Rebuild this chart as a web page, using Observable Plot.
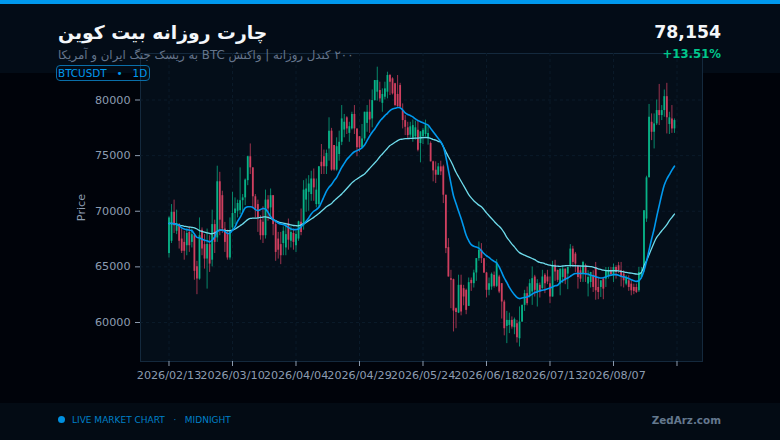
<!DOCTYPE html>
<html lang="fa">
<head>
<meta charset="utf-8">
<script src="https://cdn.jsdelivr.net/npm/d3@7"></script>
<script src="https://cdn.jsdelivr.net/npm/@observablehq/plot@0.6"></script>
<style>
html,body{margin:0;padding:0;width:780px;height:440px;overflow:hidden;background:#00030a;font-family:"DejaVu Sans",sans-serif}
.abs{position:absolute;white-space:nowrap}
#topbar{left:0;top:0;width:780px;height:4px;background:#0099ee}
#head{left:0;top:4px;width:780px;height:69px;background:#030c17}
#foot{left:0;top:403px;width:780px;height:37px;background:#030b14}
#chart{left:0;top:0;width:780px;height:440px}
#title{left:58px;top:22px;font-size:18.8px;font-weight:700;color:#f4f7fa;line-height:22px}
#sub{left:58px;top:48px;font-size:11.8px;color:#64748b;line-height:15px}
#chip{left:56px;top:65px;height:14px;line-height:14px;padding:0 2px 0 1px;border:1px solid #0a6ea8;border-radius:4px;font-size:10.4px;color:#0099ee;white-space:pre}
#val{right:59px;top:22px;font-size:17.3px;font-weight:700;color:#f4f7fa;line-height:21px}
#pct{right:59px;top:47px;font-size:11.7px;font-weight:700;color:#00c78c;line-height:15px}
#dot{left:58px;top:416px;width:7px;height:7px;border-radius:50%;background:#0090e0}
#live{left:72px;top:414px;font-size:9px;color:#0080c8;line-height:12px;white-space:pre}
#site{right:59px;top:413px;font-size:10.4px;font-weight:700;color:#64788e;line-height:14px}
</style>
</head>
<body>
<div class="abs" id="topbar"></div>
<div class="abs" id="head"></div>
<div class="abs" id="foot"></div>
<div class="abs" id="chart"></div>
<div class="abs" id="title" dir="rtl">چارت روزانه بیت کوین</div>
<div class="abs" id="sub" dir="rtl">۲۰۰ کندل روزانه | واکنش BTC به ریسک جنگ ایران و آمریکا</div>
<div class="abs" id="chip">BTCUSDT   •   1D</div>
<div class="abs" id="val">78,154</div>
<div class="abs" id="pct">+13.51%</div>
<div class="abs" id="dot"></div>
<div class="abs" id="live">LIVE MARKET CHART   ·   MIDNIGHT</div>
<div class="abs" id="site">ZedArz.com</div>
<script>
const startDay = "2026-02-13";
const tickDays = ["2026-02-13","2026-03-10","2026-04-04","2026-04-29","2026-05-24","2026-06-18","2026-07-13","2026-08-07","2026-09-01"];
const tickLabels = ["2026/02/13","2026/03/10","2026/04/04","2026/04/29","2026/05/24","2026/06/18","2026/07/13","2026/08/07",""];
const priceTicks = [60000,65000,70000,75000,80000];

const opens = [
66200,67300,69900,68200,68800,67500,67200,66900,68100,67200,
67800,65000,63900,68300,67000,65700,67000,65600,68800,67600,
72650,71400,68400,67900,65800,68500,69800,70000,70050,70950,
71200,72750,74900,73900,71300,70600,69200,69000,67800,71000,
70300,71400,68800,67500,67000,67100,66700,68900,67300,68000,
66900,67500,69000,68700,71000,71700,71500,72900,70600,70600,
74400,74900,74000,75600,77200,75900,73700,75100,76200,77300,
78400,77000,77400,78700,77400,76700,75700,76500,77900,78900,
78300,79950,80700,80850,79700,80250,80700,82200,81900,81450,
80500,81300,79050,78150,77500,76840,76600,76700,77290,76090,
76690,76900,76500,76090,74440,73690,73240,73990,73990,71440,
66730,63940,63850,61240,60850,63340,63040,62890,61450,63790,
63490,64450,65740,66490,65740,64450,62890,63190,64240,63250,
64090,63490,61840,59650,59740,60190,59530,59890,58540,60040,
61540,62590,62440,62740,64090,62740,63340,63040,64240,64090,
63490,62290,65140,64690,63450,64050,64800,64350,65100,66600,
66150,65100,64650,64350,65100,63450,63600,64200,64950,63150,
63150,63900,63900,64200,64650,64200,64950,65100,64650,64350,
63450,63750,63450,63150,63150,62850,64050,64650,69300,73000,
78000,77100,77850,79050,78600,79050,80300,77800,78300,77400];
const closes = [
69400,69900,68700,68900,67300,66400,66400,68000,66900,67900,
64600,63900,67800,66600,65700,67000,65250,68800,67200,72650,
69200,68400,67200,65800,68200,69800,70200,70700,70950,71200,
72800,74900,73900,71300,70200,69400,67800,67800,71000,70200,
71400,68800,66300,66500,66000,68200,67900,67400,68100,67200,
67900,69050,68100,71900,72000,72450,72900,72100,71900,74000,
74000,74000,75200,77200,73700,73700,75800,76200,78300,78000,
77400,77600,78700,77400,75700,75700,76500,78900,78900,78200,
79950,81750,81750,80100,80500,81000,82200,81600,80550,79500,
79400,79350,78150,77550,76800,77590,77700,77500,75490,77140,
77290,77700,77000,74440,73630,73240,73990,73540,71440,66640,
64090,63790,61030,60900,63340,60940,62290,61090,63580,63490,
64450,65740,66490,65740,64450,62890,63490,64330,63250,65350,
62740,61840,59440,60190,60190,59590,60250,58630,60040,61540,
62590,61690,63490,63940,62890,63490,62740,64090,63490,63640,
62290,65140,64540,63790,64800,64800,63750,64950,66600,65400,
65250,64050,63900,65400,64350,64050,64500,63150,62850,62700,
63750,63000,64650,64650,64300,64950,64500,64650,64050,63750,
64050,63150,62850,62800,62700,64500,64500,70050,73000,78450,
77100,77850,79050,78600,79050,80300,78400,78400,77400,78154];
const highs = [
69500,70600,71000,70100,68900,68400,68200,68400,68600,68400,
68000,65500,69400,68500,67900,68400,67800,70100,69200,74050,
73500,71800,69000,68300,69400,71700,71200,71000,73900,71500,
72900,74950,76050,73900,71500,71000,69600,70400,71900,71400,
72000,71400,69000,68100,68100,68600,68800,69300,68600,68400,
68200,69100,70200,72750,72900,73200,73600,73800,72900,74000,
76000,75500,75500,78400,77450,75900,76600,77200,79500,78700,
78500,78000,78900,79500,77400,76700,77800,78900,79500,80000,
80900,81750,82950,81600,81000,81600,82500,82300,82000,81500,
82200,81500,79650,78600,78000,78000,78200,78100,78190,77140,
77440,78190,77590,76240,74500,74440,74290,74500,74140,71440,
67540,64690,63900,61300,64250,64250,63340,63000,64000,64000,
64700,65740,67240,67090,65740,64500,64000,64450,64540,65650,
64240,63500,62000,61000,60840,60500,60400,60190,61400,61540,
62890,63190,63850,64990,64240,63850,63550,64690,64390,64690,
64090,65500,65590,64700,64800,65000,64800,64950,67000,66850,
66300,65100,64950,65500,65250,64650,64500,64650,65400,64050,
63750,64050,64950,64950,64950,65250,65100,65400,65400,64650,
64200,64200,63750,63450,63450,64950,64950,70050,73150,79600,
78750,78750,80000,81400,79500,80900,81500,78900,79500,78300];
const lows = [
65800,67100,68000,67900,66600,66200,65600,66000,66300,66700,
63800,62500,63800,66000,64800,63000,64500,65000,66200,67200,
67800,68000,66300,65600,65600,68200,68800,69400,69700,69900,
70500,72300,73300,70200,69400,68100,67400,67100,67500,69100,
69400,67800,65500,65700,65200,66000,66000,66500,66700,66500,
66300,67300,67800,68300,69900,70000,70900,70900,70300,70300,
73300,73300,73300,74500,73600,73600,73600,74500,75900,76600,
76900,76200,77300,76900,74900,75300,75700,76300,77100,77000,
77500,79900,79900,79800,78900,80000,80100,80400,80450,79400,
79350,79300,77400,76800,76500,76600,76200,76400,75340,74350,
76000,76690,75940,74440,72640,72490,73240,73200,70690,66190,
64090,61240,59150,59440,60800,60600,61500,60700,61450,62800,
63100,63700,65500,65300,64400,62200,62400,62900,63100,63150,
62590,60310,58800,58100,59000,59400,58900,58150,57800,60000,
61000,61500,62200,61540,62290,61390,62200,63000,62590,63400,
61690,62290,63700,63600,62400,63500,63400,62950,64900,65000,
64500,63000,63600,63600,63600,62300,63100,62700,62000,62050,
62250,62050,63150,63900,64150,63600,63900,64400,63200,63100,
63300,62800,62400,62500,62600,62700,63900,64500,69000,73000,
76350,75600,77700,77700,78150,78450,76950,76900,77000,77000];
const ma20 = [
68900,68900,68880,68800,68720,68500,68400,68350,68300,68250,
67950,67650,67600,67500,67400,67350,67250,67400,67700,68200,
68300,68300,68200,68000,68050,68300,68600,69100,69450,69900,
70300,70400,70400,70350,70150,70050,70150,70250,70200,69900,
69500,69250,69100,68950,68850,68800,68700,68550,68400,68350,
68350,68400,68600,68850,69100,69400,69750,70000,70150,70350,
70800,71300,71800,72150,72400,72750,73050,73500,73950,74300,
74650,74900,75150,75350,75450,75550,75700,75950,76350,76750,
77100,77400,77750,78100,78350,78600,78800,79050,79200,79250,
79320,79300,79100,78850,78700,78600,78480,78300,78150,78050,
77950,77850,77750,77450,77150,76850,76550,76250,75800,74900,
73700,72500,71400,70700,70000,69350,68600,67850,67350,67000,
66850,66780,66680,66450,66200,66000,65850,65650,65500,65350,
65000,64500,64000,63600,63150,62800,62500,62250,62150,62200,
62250,62300,62400,62550,62700,62750,62850,62900,62950,63030,
63100,63200,63300,63350,63600,63750,63900,64000,64150,64300,
64400,64400,64400,64400,64380,64350,64250,64200,64100,64050,
64000,64020,64100,64200,64250,64300,64300,64250,64150,64100,
64050,63950,63850,63750,63700,63750,64050,64650,65500,66500,
67500,68400,69500,70500,71500,72350,72900,73300,73700,74050];
const ma50 = [
68900,68900,68880,68820,68760,68700,68650,68620,68580,68550,
68500,68400,68250,68200,68120,68050,68000,67980,68050,68200,
68300,68300,68280,68250,68250,68300,68400,68550,68700,68850,
69050,69250,69350,69380,69380,69400,69450,69480,69500,69450,
69350,69250,69150,69050,68980,68940,68880,68820,68780,68720,
68700,68700,68780,68880,69000,69150,69300,69450,69620,69800,
70000,70200,70400,70550,70700,70950,71150,71350,71550,71800,
72050,72300,72550,72750,72900,73050,73200,73350,73600,73850,
74100,74350,74600,74900,75150,75400,75650,75900,76050,76200,
76350,76450,76480,76520,76530,76550,76560,76570,76580,76600,
76620,76630,76620,76550,76450,76400,76280,76200,75800,75350,
74900,74500,74000,73500,73100,72700,72300,71900,71500,71200,
70950,70750,70550,70400,70150,69850,69600,69350,69100,68850,
68650,68400,68050,67650,67350,67050,66800,66500,66280,66150,
66050,65950,65850,65750,65650,65500,65400,65350,65280,65200,
65150,65100,65080,65060,65050,65080,65100,65120,65110,65100,
65100,65090,65080,65070,65060,65050,65020,64980,64900,64830,
64770,64700,64660,64650,64650,64650,64650,64640,64600,64550,
64500,64470,64430,64400,64360,64350,64500,65100,65550,66100,
66650,67200,67650,67950,68250,68500,68800,69150,69450,69750];

const day = s => new Date(s + "T00:00:00Z");
const t0 = +day(startDay);
const DAY = 864e5;
const candles = opens.map((o, i) => ({
  date: new Date(t0 + i * DAY), o, c: closes[i], h: highs[i], l: lows[i],
  up: closes[i] >= o, m20: ma20[i], m50: ma50[i]
}));
const upCol = "#08b287", dnCol = "#cf3f5f";
const tickDates = tickDays.map(day);
const labelOf = new Map(tickDates.map((d, i) => [+d, tickLabels[i]]));
const gridCol = "#0b1b2a";

const fig = Plot.plot({
  width: 780, height: 440,
  marginLeft: 140, marginRight: 78, marginTop: 53, marginBottom: 79,
  style: {background: "transparent", fontFamily: "DejaVu Sans, sans-serif", fontSize: "11.2px", color: "#8c9cb0"},
  x: {type: "utc", domain: [new Date(t0 - 11.22 * DAY), new Date(t0 + 210.04 * DAY)]},
  y: {domain: [56494, 84180]},
  marks: [
    Plot.frame({fill: "#040e19", stroke: "#14293d", strokeWidth: 1}),
    Plot.gridY(priceTicks, {stroke: gridCol, strokeOpacity: 1, strokeDasharray: "3,3"}),
    Plot.gridX(tickDates, {stroke: gridCol, strokeOpacity: 1, strokeDasharray: "3,3"}),
    Plot.axisY({ticks: priceTicks, tickFormat: d => String(d), tickSize: 5, tickPadding: 5, label: "Price", labelAnchor: "center", labelArrow: "none", labelOffset: 63, stroke: "#8c9cb0"}),
    Plot.axisX({ticks: tickDates, tickFormat: d => labelOf.get(+d), tickSize: 5, tickPadding: 5, label: null, stroke: "#8c9cb0"}),
    Plot.ruleX(candles, {x: "date", y1: "l", y2: "h", stroke: d => d.up ? upCol : dnCol, strokeWidth: 0.75}),
    Plot.ruleX(candles, {x: "date", y1: "o", y2: "c", stroke: d => d.up ? upCol : dnCol, strokeWidth: 1.8}),
    Plot.lineY(candles, {x: "date", y: "m50", stroke: "#6fdcec", strokeWidth: 1.3, curve: "catmull-rom"}),
    Plot.lineY(candles, {x: "date", y: "m20", stroke: "#0099ee", strokeWidth: 1.6, curve: "catmull-rom"})
  ]
});
document.getElementById("chart").appendChild(fig);
</script>
</body>
</html>
